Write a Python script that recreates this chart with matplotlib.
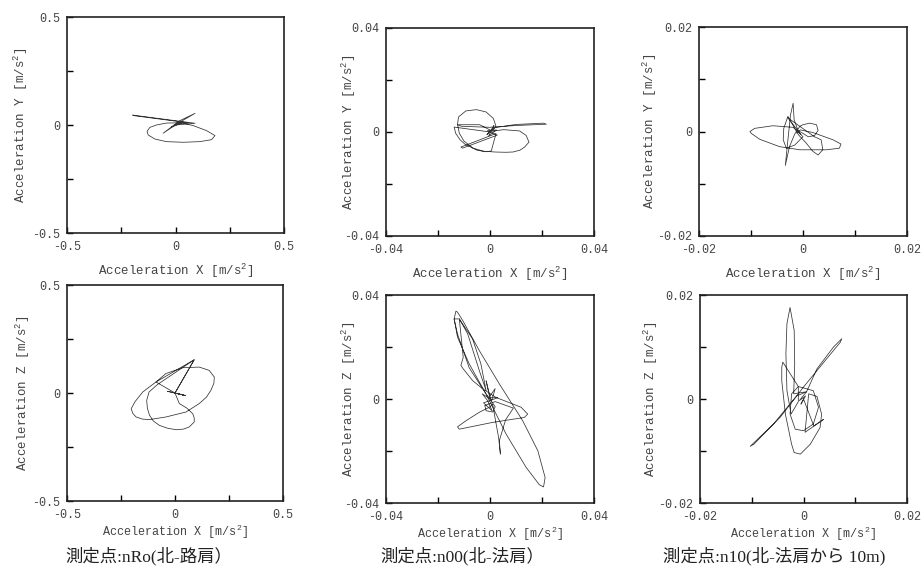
import matplotlib.pyplot as plt

plt.rcParams['font.family'] = ['Liberation Mono', 'DejaVu Sans Mono']
plt.rcParams['mathtext.fontset'] = 'custom'
plt.rcParams['mathtext.rm'] = 'Liberation Mono'
plt.rcParams['mathtext.it'] = 'Liberation Mono'

# acceleration orbits
# nRo panels in m/s^2, n00 / n10 panels in 1e-3 m/s^2
nro_xy_x = [0.00, 0.03, -0.02, 0.09, 0.02, -0.057, 0.00, 0.09, -0.198, -0.19, 0.06, 0.01,
            -0.042, -0.088, -0.118, -0.131, -0.126, -0.095, -0.042, 0.035, 0.112, 0.166,
            0.182, 0.143, 0.082, 0.020, 0.00]
nro_xy_y = [0.00, 0.01, -0.01, 0.054, 0.02, -0.038, 0.00, 0.008, 0.046, 0.043, 0.01, 0.01,
            0.009, 0.000, -0.011, -0.029, -0.046, -0.065, -0.077, -0.080, -0.077, -0.068,
            -0.049, -0.026, -0.003, 0.012, 0.00]

nro_xz_x = [0.00, 0.05, -0.035, 0.04, 0.00, 0.089, -0.088, -0.149, -0.185, -0.203, -0.195,
            -0.180, -0.150, -0.118, -0.042, 0.051, 0.112, 0.145, 0.166, 0.180, 0.182, 0.158,
            0.112, 0.035, -0.042, -0.088, 0.00, 0.089, -0.08, -0.120, -0.131, -0.128, -0.118,
            -0.100, -0.072, -0.035, 0.005, 0.040, 0.066, 0.089, 0.089, 0.082, 0.055, 0.020, 0.00]
nro_xz_y = [0.00, -0.012, 0.008, -0.01, 0.00, 0.154, 0.051, 0.005, -0.040, -0.073, -0.095,
            -0.111, -0.121, -0.123, -0.111, -0.088, -0.049, -0.020, 0.012, 0.045, 0.074, 0.105,
            0.120, 0.117, 0.090, 0.051, 0.00, 0.154, 0.04, 0.005, -0.034, -0.070, -0.103,
            -0.130, -0.150, -0.163, -0.170, -0.167, -0.157, -0.134, -0.115, -0.096, -0.070, -0.049, 0.00]

n00_xy_x = [0.0, -0.8, 0.5, -1.2, 0.3, 2.3, 1.3, -1.5, -5.2, -9.3, -12.1, -12.5, -11.8, -10.0,
            -6.5, -2.5, 2.0, 6.0, 8.8, 11.5, 13.3, 15.0, 13.9, 11.4, 5.2, 1.0, -4.0, -12.5, -11.0,
            0.0, 10.0, 21.7, 20.5, 10.0, 2.0, 0.0, -13.8, -13.2, -11.5, -9.5, -5.0, -1.5, 0.5,
            2.3, -11.2, -10.5, 2.8, 0.0, 1.5, -0.5, 2.5, -1.0, 0.0]
n00_xy_y = [0.0, -0.6, 0.8, -1.0, 0.3, 2.2, 5.2, 7.7, 8.6, 8.1, 5.8, 3.0, -0.5, -3.5,
            -6.2, -7.4, -7.7, -7.8, -7.7, -7.0, -5.8, -3.9, -1.3, 0.4, 0.9, 0.3, 2.8, 2.8, 2.2,
            1.8, 2.5, 3.0, 3.4, 2.9, 1.7, 0.0, 1.9, -0.5, -3.0, -4.8, -7.0, -7.6, -7.3,
            -0.6, -5.8, -6.2, -1.2, 0.0, 2.5, -1.5, 0.8, 0.5, 0.0]

n00_xz_x = [0.0, -1.5, 0.5, 2.0, -0.5, 3.0, -2.5, 0.8, -1.0, -3.0, 0.0,
            -1.5, -8.0, -12.5, -13.8, -13.1, -12.5, -10.5, -4.1, 3.6, 12.6, 18.4, 21.2, 20.6,
            19.0, 13.9, 6.2, -1.5, -8.0, -12.5, -13.8, -11.8, -6.7, -3.5, -1.5, -4.1, -8.6,
            -11.8, -10.3, -11.2, -10.3, -6.7, -2.8, 2.3, 8.7, 12.0, 14.5, 13.2, 1.0, -11.8,
            -12.5, -9.3, -4.1, -0.3, 1.0, 3.3, 4.0, 3.6, 6.0, 9.0, 2.0, -2.0, -1.5, 1.0,
            2.0, 0.0]
n00_xz_y = [0.0, 7.0, -1.0, 4.0, 0.5, 0.5, -1.5, -4.5, -0.5, 2.0, 0.0,
            1.9, 13.5, 23.8, 30.8, 33.8, 33.4, 30.2, 18.6, 5.8, -8.4, -19.9, -30.2, -33.8,
            -33.0, -26.3, -13.5, 1.9, 12.0, 25.0, 30.8, 30.8, 23.1, 13.5, 3.2, 10.9, 25.1,
            30.8, 16.0, 12.9, 11.6, 7.1, 3.9, 0.6, -1.9, -3.2, -5.8, -7.1, -9.0, -11.6,
            -10.7, -8.4, -5.1, -3.2, -2.0, -14.8, -21.2, -16.0, -8.0, -3.5, -1.0, -2.5, -4.5, -5.0,
            -3.0, 0.0]

n10_xy_x = [-1.0, -0.4, -1.4, -0.8, -1.7, -1.9, -2.4, -2.9, -3.4, -2.6, -1.6,
            -0.6, 0.0, 1.3, 2.6, 2.9, 2.2, 1.0, -0.1, -1.0,
            -2.9, 2.2, 3.5, 3.8, 2.9, 1.9, 0.6, -0.9,
            -2.9, -3.7, -3.8, -3.2, -1.6, 0.0, -1.0,
            -1.9, -5.8, -9.3, -10.2, -9.9, -8.3, -4.5, -0.6, 4.5, 7.0, 7.3, 5.8, 1.9, -0.5,
            -1.2, -0.9]
n10_xy_y = [0.0, -0.6, 0.4, -0.2, 2.2, 5.4, 3.2, -1.6, -6.5, -2.9, -0.5,
            1.0, 1.3, 1.6, 1.3, 0.2, -0.8, -1.0, -0.3, 0.2,
            2.6, -1.0, -1.6, -3.5, -4.5, -3.8, -2.2, -0.6,
            2.9, 0.6, -1.6, -3.2, -2.6, -1.0, 0.0,
            0.8, 1.1, 0.6, 0.0, -0.4, -1.5, -2.9, -3.5, -3.5, -3.2, -2.4, -1.6, -0.2, 0.3,
            -0.3, 0.2]

n10_xz_x = [0.0, -0.5, 0.4, -0.8, 0.6, 2.6, 5.8, 7.4, 7.1, 4.2, 0.0, -4.5, -9.6, -10.3,
            -5.8, -1.3, 0.6, -1.9, -1.7, -1.8, -2.6, -3.2, -3.4, -3.2, -2.4, -1.0,
            -1.0, 1.9, 2.9, 1.9, 0.0, -1.6, -2.6, -2.3, -1.0,
            -4.0, -4.2, -4.2, -3.5, -2.3, -1.8, -0.6, 1.3, 3.2, 3.5, 2.6, 1.0,
            0.3, 3.9, 2.0, 0.0]
n10_xz_y = [0.0, -1.0, 0.6, -0.3, 1.4, 5.8, 10.0, 11.6, 10.9, 7.4, 2.3, -3.5, -8.7, -9.1,
            -4.8, 0.6, 1.4, 1.0, 6.8, 13.2, 17.6, 14.5, 8.7, 1.6, -2.9, -0.5,
            2.4, 1.6, -1.6, -4.8, -6.1, -5.8, -2.9, 1.0, 2.4,
            7.1, 6.1, 3.5, -2.9, -8.7, -10.3, -10.6, -8.7, -5.5, -2.9, 0.5, 1.0,
            -6.4, -3.9, -5.2, 0.0]

captions = ['測定点:nRo(北-路肩）', '測定点:n00(北-法肩）', '測定点:n10(北-法肩から 10m)']
caption_x = [65, 380, 663]

W, H = 924, 567
txt = '#444444'

panels = [
    # rect in pixels (left, top, right, bottom), limit, labels, data, scale, ylabel x
    ((67, 17, 284, 233), 0.5, ['-0.5', '0', '0.5'], nro_xy_x, nro_xy_y, 1.0, 'Y', 18),
    ((386, 28, 594, 236), 0.04, ['-0.04', '0', '0.04'], n00_xy_x, n00_xy_y, 1e-3, 'Y', 346),
    ((699, 27, 907, 236), 0.02, ['-0.02', '0', '0.02'], n10_xy_x, n10_xy_y, 1e-3, 'Y', 647),
    ((67, 285, 283, 501), 0.5, ['-0.5', '0', '0.5'], nro_xz_x, nro_xz_y, 1.0, 'Z', 20),
    ((386, 295, 594, 503), 0.04, ['-0.04', '0', '0.04'], n00_xz_x, n00_xz_y, 1e-3, 'Z', 346),
    ((700, 295, 907, 503), 0.02, ['-0.02', '0', '0.02'], n10_xz_x, n10_xz_y, 1e-3, 'Z', 648),
]

fig = plt.figure(figsize=(W / 100, H / 100), dpi=100)

for i, ((l, t, r, b), lim, labs, xs, ys, sc, comp, ylx) in enumerate(panels):
    ax = fig.add_axes([l / W, 1 - b / H, (r - l) / W, (b - t) / H])
    ax.plot([v * sc for v in xs], [v * sc for v in ys], color='#333333', lw=0.55)
    ax.set_xlim(-lim, lim)
    ax.set_ylim(-lim, lim)
    ticks = [-lim, -lim / 2, 0, lim / 2, lim]
    tlabs = [labs[0], '', labs[1], '', labs[2]]
    ax.set_xticks(ticks)
    ax.set_xticklabels(tlabs)
    ax.set_yticks(ticks)
    ax.set_yticklabels(tlabs)
    ax.tick_params(direction='in', length=4, width=1, labelsize=8.5, labelcolor=txt, pad=5)
    for s in ax.spines.values():
        s.set_linewidth(1.2)
        s.set_color('#222222')
    if i < 3:
        ax.tick_params(axis='x', pad=6)
        ax.set_xlabel(r'Acceleration X [m/s$^2$]', fontsize=9, color=txt, labelpad=6)
    else:
        ax.tick_params(axis='x', pad=6)
        ax.set_xlabel(r'Acceleration X [m/s$^2$]', fontsize=8.5, color=txt, labelpad=1)
    ax.set_ylabel(r'Acceleration %s [m/s$^2$]' % comp, fontsize=9, color=txt)
    ax.yaxis.set_label_coords((ylx + 12 - l) / (r - l), 0.5)

for c, cx in zip(captions, caption_x):
    fig.text(cx / W, 1 - 556 / H, c, fontsize=12.5, va='center', color='#222222',
             family=['Liberation Serif', 'Noto Sans CJK JP'])

plt.savefig('out.png', dpi=100)
